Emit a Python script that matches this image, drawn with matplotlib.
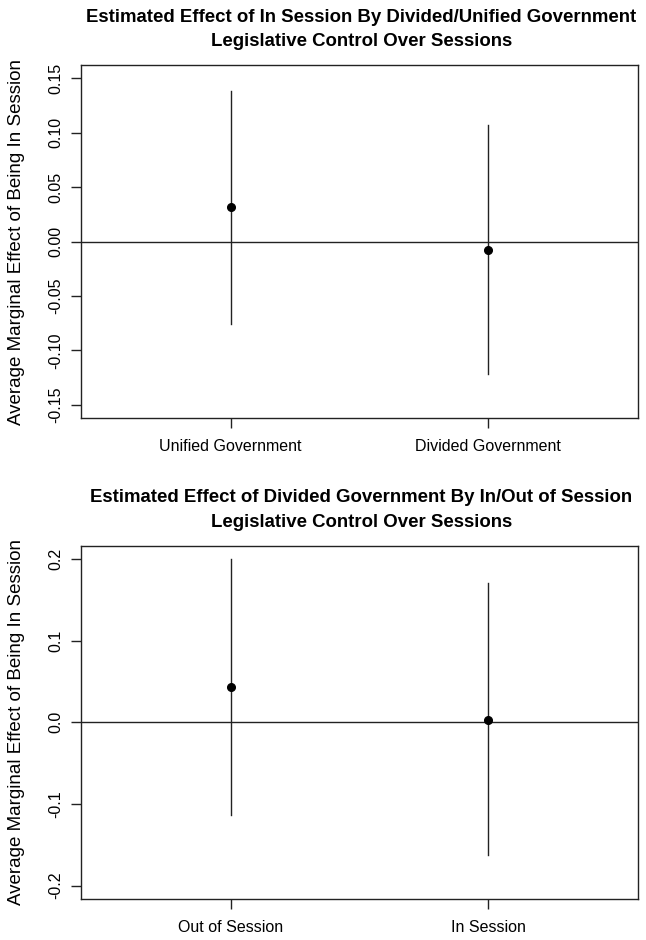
import matplotlib
matplotlib.use("Agg")
import matplotlib.pyplot as plt
from matplotlib.transforms import offset_copy

plt.rcParams['font.family'] = ['Liberation Sans', 'DejaVu Sans']

# Panel 1: effect of being in session, by government type
gov_labels = ["Unified Government", "Divided Government"]
gov_est = [0.0316, -0.0079]
gov_lo = [-0.0755, -0.1220]
gov_hi = [0.1383, 0.1068]
gov_yticks = [-0.15, -0.10, -0.05, 0.00, 0.05, 0.10, 0.15]
gov_yticklabels = ["-0.15", "-0.10", "-0.05", "0.00", "0.05", "0.10", "0.15"]

# Panel 2: effect of divided government, by session status
ses_labels = ["Out of Session", "In Session"]
ses_est = [0.0435, 0.0034]
ses_lo = [-0.1132, -0.1618]
ses_hi = [0.2000, 0.1704]
ses_yticks = [-0.2, -0.1, 0.0, 0.1, 0.2]
ses_yticklabels = ["-0.2", "-0.1", "0.0", "0.1", "0.2"]

titles = [("Estimated Effect of In Session By Divided/Unified Government",
           "Legislative Control Over Sessions"),
          ("Estimated Effect of Divided Government By In/Out of Session",
           "Legislative Control Over Sessions")]
ylab = "Average Marginal Effect of Being In Session"

W, H = 646, 940
fig = plt.figure(figsize=(W / 100, H / 100), dpi=100)

LINE = '#222222'


def panel(rect, labels, est, lo, hi, yticks, yticklabels, ylim, title):
    ax = fig.add_axes(rect)
    x = [1, 2]
    ax.axhline(0, color=LINE, lw=1.0, zorder=1)
    for xi, e, l, h in zip(x, est, lo, hi):
        ax.plot([xi, xi], [l, h], color=LINE, lw=1.0, zorder=2)
    ax.plot(x, est, 'o', color='black', markersize=5.5, zorder=3)

    ax.set_xlim(0.42, 2.58)
    ax.set_ylim(-ylim, ylim)
    ax.set_xticks(x)
    ax.set_xticklabels(labels, fontsize=11.5)
    ax.set_yticks(yticks)
    ax.set_yticklabels(yticklabels, fontsize=11.5, rotation=90, va='center')
    ax.tick_params(length=7, width=1.0, color=LINE, pad=8)
    ax.tick_params(axis='y', pad=6)
    for s in ax.spines.values():
        s.set_color(LINE)
        s.set_linewidth(1.0)

    # two-line bold title above the box
    for txt, dy in zip(title, (48, 23)):
        tr = offset_copy(ax.transAxes, fig=fig, x=2 * 0.72, y=dy * 0.72, units='points')
        ax.text(0.5, 1.0, txt, transform=tr, ha='center', va='center',
                fontsize=13.4, fontweight='bold')

    # y label, centered on the box
    b = rect[1] + rect[3] / 2
    fig.text(17 / W, b, ylab, rotation=90, ha='center', va='center', fontsize=13.5)
    return ax


left = 81 / W
width = (638 - 81) / W
height = 353 / H

panel([left, 1 - 418 / H, width, height], gov_labels, gov_est, gov_lo, gov_hi,
      gov_yticks, gov_yticklabels, 0.162, titles[0])
panel([left, 1 - 898.8 / H, width, height], ses_labels, ses_est, ses_lo, ses_hi,
      ses_yticks, ses_yticklabels, 0.216, titles[1])

fig.savefig("out.png", dpi=100)
